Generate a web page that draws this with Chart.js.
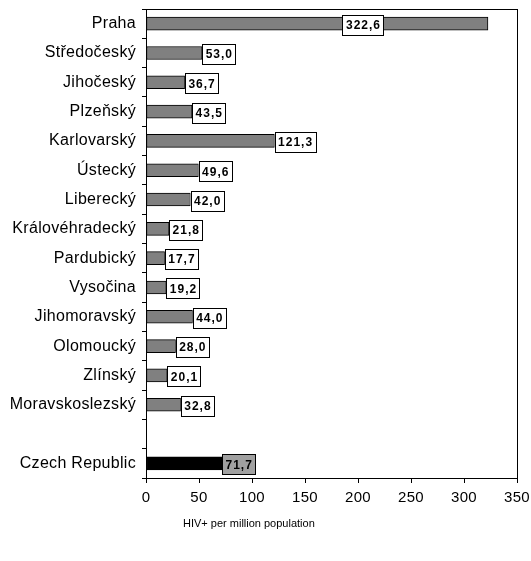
<!DOCTYPE html>
<html>
  <head>
    <meta charset="utf-8" />
    <title>HIV+ per million population</title>
    <script src="https://cdn.jsdelivr.net/npm/chart.js"></script>
    <style>
      html,
      body {
        margin: 0;
        padding: 0;
        background: white;
      }
      #wrap {
        width: 531px;
        height: 561px;
      }
    </style>
  </head>
  <body>
    <div id="wrap"><canvas id="hivchart" width="531" height="561"></canvas></div>

    <script type="text/javascript">
      // regions, then a blank row, then the national value
      var regions = [
        "Praha", "Středočeský", "Jihočeský", "Plzeňský", "Karlovarský",
        "Ústecký", "Liberecký", "Královéhradecký", "Pardubický", "Vysočina",
        "Jihomoravský", "Olomoucký", "Zlínský", "Moravskoslezský", "", "Czech Republic"
      ];
      var rates = [
        322.6, 53.0, 36.7, 43.5, 121.3, 49.6, 42.0, 21.8, 17.7, 19.2,
        44.0, 28.0, 20.1, 32.8, null, 71.7
      ];
      var xTicks = [0, 50, 100, 150, 200, 250, 300, 350];
      var axisTitle = "HIV+ per million population";

      var barColors = rates.map(function (v, i) {
        return regions[i] == "Czech Republic" ? "#000000" : "#808080";
      });

      var FONT = "'Liberation Sans', Arial, sans-serif";

      // ---------------------------------------------
      // the axis labels of the original are a bit spaced out
      var spacing = {
        id: "spacing",
        beforeDraw: function (chart) {
          chart.ctx.letterSpacing = "0.3px";
        },
        beforeDatasetsDraw: function (chart) {
          chart.ctx.letterSpacing = "0px";
        },
      };

      // white (grey for the total) boxes with the value, at the bar end
      var valueBoxes = {
        id: "valueBoxes",
        afterDatasetsDraw: function (chart) {
          var ctx = chart.ctx;
          var meta = chart.getDatasetMeta(0);
          var area = chart.chartArea;
          ctx.save();
          ctx.font = "bold 12px " + FONT;
          ctx.letterSpacing = "1px";
          ctx.textBaseline = "middle";
          ctx.textAlign = "center";
          meta.data.forEach(function (bar, i) {
            var v = rates[i];
            if (v == null) return;
            var txt = v.toFixed(1).replace(".", ",");
            var w = ctx.measureText(txt).width + 6;
            var h = 20;
            var left = bar.x;
            if (left + w > area.right) {
              // no room after the bar: put it inside
              left = bar.base + (bar.x - bar.base) * 0.634 - w / 2;
            }
            var top = bar.y - h / 2 + 1;
            ctx.fillStyle = regions[i] == "Czech Republic" ? "#a0a0a0" : "#ffffff";
            ctx.fillRect(left, top, w, h);
            ctx.strokeStyle = "#000";
            ctx.lineWidth = 1;
            ctx.strokeRect(Math.round(left) + 0.5, Math.round(top) + 0.5, Math.round(w), h);
            ctx.fillStyle = "#000";
            ctx.fillText(txt, left + w / 2 + 0.5, top + h / 2 + 1);
          });
          ctx.restore();
        },
      };

      // frame round the plot area and the axis title
      var frame = {
        id: "frame",
        afterDraw: function (chart) {
          var ctx = chart.ctx;
          var a = chart.chartArea;
          ctx.save();
          ctx.letterSpacing = "0px";
          ctx.strokeStyle = "#000";
          ctx.lineWidth = 1;
          ctx.strokeRect(Math.round(a.left) + 0.5, Math.round(a.top) + 0.5,
            Math.round(a.right - a.left), Math.round(a.bottom - a.top));
          ctx.font = "11px " + FONT;
          ctx.fillStyle = "#000";
          ctx.textAlign = "left";
          ctx.textBaseline = "middle";
          ctx.fillText(axisTitle, 183, 524);
          ctx.restore();
        },
      };

      var hivChart = new Chart(document.getElementById("hivchart"), {
        type: "bar",
        data: {
          labels: regions,
          datasets: [
            {
              data: rates,
              backgroundColor: barColors,
              borderColor: "#000000",
              borderWidth: 1,
              borderSkipped: false,
              barThickness: 13,
            },
          ],
        },
        options: {
          indexAxis: "y",
          responsive: false,
          animation: false,
          layout: { padding: { top: 9, right: 14, left: 0, bottom: 0 } },
          plugins: {
            legend: { display: false },
            tooltip: { enabled: false },
          },
          scales: {
            x: {
              min: 0,
              max: 350,
              afterBuildTicks: function (scale) {
                scale.ticks = xTicks.map(function (v) {
                  return { value: v };
                });
              },
              afterFit: function (scale) {
                scale.height = 83;
                scale.paddingLeft = 0;
                scale.paddingRight = 0;
              },
              grid: {
                drawOnChartArea: false,
                tickLength: 5,
                color: "#000",
              },
              border: { color: "#000" },
              ticks: {
                color: "#000",
                padding: 6,
                font: { family: FONT, size: 15 },
              },
            },
            y: {
              afterFit: function (scale) {
                scale.width = 146;
                scale.paddingTop = 0;
                scale.paddingBottom = 0;
              },
              grid: {
                drawOnChartArea: false,
                offset: true,
                tickLength: 4,
                color: "#000",
              },
              border: { color: "#000" },
              ticks: {
                color: "#000",
                padding: 6,
                autoSkip: false,
                font: { family: FONT, size: 16 },
              },
            },
          },
        },
        plugins: [spacing, valueBoxes, frame],
      });
    </script>
  </body>
</html>
